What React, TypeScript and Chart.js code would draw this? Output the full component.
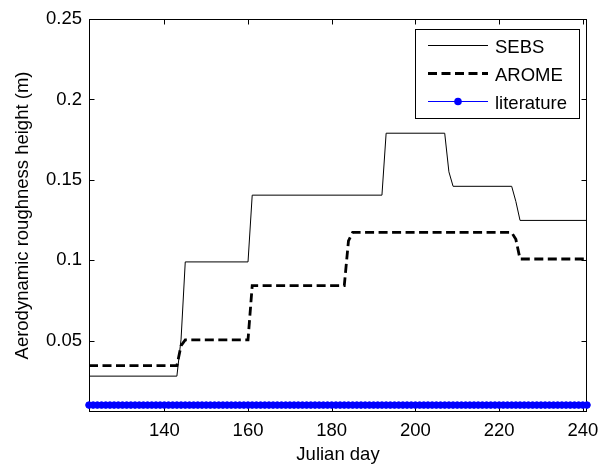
import { useEffect, useRef } from "react";
import { Chart, registerables } from "chart.js";

Chart.register(...registerables);

const seriesLabels = ["SEBS", "AROME", "literature"];

const sebsDays = [122, 143, 144, 145, 160, 161, 192, 193, 207, 208, 209, 223, 224, 225, 241];
const sebsValues = [0.028, 0.028, 0.051, 0.099, 0.099, 0.1405, 0.1405, 0.179, 0.179, 0.155, 0.146, 0.146, 0.1366, 0.1248, 0.1248];

const aromeDays = [122, 143, 144, 145, 160, 161, 183, 184, 185, 223, 224, 225, 241];
const aromeValues = [0.0345, 0.0345, 0.047, 0.0505, 0.0505, 0.0842, 0.0842, 0.112, 0.1173, 0.1173, 0.113, 0.1008, 0.1008];

const literatureDays = [
  122, 123, 124, 125, 126, 127, 128, 129, 130, 131, 132, 133, 134, 135, 136, 137, 138, 139, 140, 141,
  142, 143, 144, 145, 146, 147, 148, 149, 150, 151, 152, 153, 154, 155, 156, 157, 158, 159, 160, 161,
  162, 163, 164, 165, 166, 167, 168, 169, 170, 171, 172, 173, 174, 175, 176, 177, 178, 179, 180, 181,
  182, 183, 184, 185, 186, 187, 188, 189, 190, 191, 192, 193, 194, 195, 196, 197, 198, 199, 200, 201,
  202, 203, 204, 205, 206, 207, 208, 209, 210, 211, 212, 213, 214, 215, 216, 217, 218, 219, 220, 221,
  222, 223, 224, 225, 226, 227, 228, 229, 230, 231, 232, 233, 234, 235, 236, 237, 238, 239, 240, 241,
];
const literatureValue = 0.01;

const xTickValues = [140, 160, 180, 200, 220, 240];
const yTickValues = [0.05, 0.1, 0.15, 0.2, 0.25];

const X_MIN = 122;
const X_MAX = 241;
const Y_MIN = 0.0057;
const Y_MAX = 0.25;

const FONT_FAMILY = "Arial, 'Liberation Sans', sans-serif";
const FONT_SIZE = 18.5;

const framePlugin = {
  id: "matlabFrame",
  beforeDatasetsDraw(chart: any) {
    const { ctx, chartArea } = chart;
    const { left, right, top, bottom } = chartArea;
    const L = Math.round(left) + 0.5;
    const R = Math.round(right) - 0.5;
    const T = Math.round(top) + 0.5;
    const B = Math.round(bottom) - 0.5;
    ctx.save();
    ctx.strokeStyle = "#000";
    ctx.lineWidth = 1;
    ctx.strokeRect(L, T, R - L, B - T);
    const tickLen = 5;
    const xs = chart.scales.x;
    const ys = chart.scales.y;
    ctx.beginPath();
    xTickValues.forEach((v) => {
      const px = Math.round(xs.getPixelForValue(v)) + 0.5;
      ctx.moveTo(px, B);
      ctx.lineTo(px, B - tickLen);
      ctx.moveTo(px, T);
      ctx.lineTo(px, T + tickLen);
    });
    yTickValues.forEach((v) => {
      const py = Math.round(ys.getPixelForValue(v)) + 0.5;
      ctx.moveTo(L, py);
      ctx.lineTo(L + tickLen, py);
      ctx.moveTo(R, py);
      ctx.lineTo(R - tickLen, py);
    });
    ctx.stroke();
    ctx.restore();
  },
  afterDraw(chart: any) {
    const { ctx, chartArea } = chart;
    const lw = 164;
    const lh = 89;
    const lx = Math.round(chartArea.right) - 8 - lw;
    const ly = Math.round(chartArea.top) + 10;
    ctx.save();
    ctx.fillStyle = "#fff";
    ctx.fillRect(lx, ly, lw, lh);
    ctx.strokeStyle = "#000";
    ctx.lineWidth = 1;
    ctx.setLineDash([]);
    ctx.strokeRect(lx + 0.5, ly + 0.5, lw, lh);
    const rowYs = [ly + 16.5, ly + 44.5, ly + 72.5];
    chart.data.datasets.forEach((ds: any, i: number) => {
      const y = rowYs[i];
      const x0 = lx + 13;
      const x1 = lx + 73;
      ctx.beginPath();
      ctx.strokeStyle = ds.borderColor;
      ctx.lineWidth = ds.borderWidth;
      ctx.setLineDash(ds.borderDash || []);
      ctx.moveTo(x0, y);
      ctx.lineTo(x1, y);
      ctx.stroke();
      ctx.setLineDash([]);
      if (ds.pointRadius > 0) {
        ctx.beginPath();
        ctx.fillStyle = ds.pointBackgroundColor;
        ctx.arc((x0 + x1) / 2, y, ds.pointRadius + 0.5, 0, Math.PI * 2);
        ctx.fill();
      }
      ctx.fillStyle = "#000";
      ctx.font = `${FONT_SIZE}px ${FONT_FAMILY}`;
      ctx.textAlign = "left";
      ctx.textBaseline = "middle";
      ctx.fillText(ds.label, lx + 80, y + 2);
    });
    ctx.restore();
  },
};

export default function App() {
  const canvasRef = useRef<HTMLCanvasElement | null>(null);

  useEffect(() => {
    const canvas = canvasRef.current;
    if (!canvas) return;
    const font = { family: FONT_FAMILY, size: FONT_SIZE };
    const chart = new Chart(canvas, {
      type: "line",
      data: {
        datasets: [
          {
            label: seriesLabels[0],
            data: sebsDays.map((d, i) => ({ x: d, y: sebsValues[i] })),
            borderColor: "#000",
            borderWidth: 1,
            pointRadius: 0,
            tension: 0,
            fill: false,
          },
          {
            label: seriesLabels[1],
            data: aromeDays.map((d, i) => ({ x: d, y: aromeValues[i] })),
            borderColor: "#000",
            borderWidth: 2.8,
            borderDash: [9, 4.5],
            pointRadius: 0,
            tension: 0,
            fill: false,
          },
          {
            label: seriesLabels[2],
            data: literatureDays.map((d) => ({ x: d, y: literatureValue })),
            borderColor: "#0000ff",
            borderWidth: 1,
            pointRadius: 3.3,
            pointBorderWidth: 1,
            pointBackgroundColor: "#0000ff",
            pointBorderColor: "#0000ff",
            tension: 0,
            fill: false,
            clip: false,
          } as any,
        ],
      },
      options: {
        responsive: false,
        animation: false,
        events: [],
        layout: { padding: { top: 19, right: 11, left: 0, bottom: 0 } },
        plugins: {
          legend: { display: false },
          tooltip: { enabled: false },
        },
        scales: {
          x: {
            type: "linear",
            min: X_MIN,
            max: X_MAX,
            grid: { display: false, drawTicks: false },
            border: { display: false },
            ticks: {
              font,
              color: "#000",
              padding: 8,
              autoSkip: false,
              maxRotation: 0,
              callback: (v: any) => String(v),
            },
            afterBuildTicks: (s: any) => {
              s.ticks = xTickValues.map((v) => ({ value: v }));
            },
            afterFit: (s: any) => {
              s.height = 56;
              s.paddingLeft = 0;
              s.paddingRight = 0;
            },
            title: {
              display: true,
              text: "Julian day",
              font,
              color: "#000",
              padding: { top: 0, bottom: 2 },
            },
          },
          y: {
            type: "linear",
            min: Y_MIN,
            max: Y_MAX,
            grid: { display: false, drawTicks: false },
            border: { display: false },
            ticks: {
              font,
              color: "#000",
              padding: 7,
              autoSkip: false,
              callback: (v: any) => String(v),
            },
            afterBuildTicks: (s: any) => {
              s.ticks = yTickValues.map((v) => ({ value: v }));
            },
            afterFit: (s: any) => {
              s.width = 89;
              s.paddingTop = 0;
              s.paddingBottom = 0;
            },
            title: {
              display: true,
              text: "Aerodynamic roughness height (m)",
              font,
              color: "#000",
              padding: { top: 12, bottom: 0 },
            },
          },
        },
      },
      plugins: [framePlugin],
    });
    return () => chart.destroy();
  }, []);

  return (
    <div style={{ position: "fixed", left: 0, top: 0, width: 598, height: 468, background: "#fff" }}>
      <canvas ref={canvasRef} width={598} height={468} style={{ display: "block" }} />
    </div>
  );
}
